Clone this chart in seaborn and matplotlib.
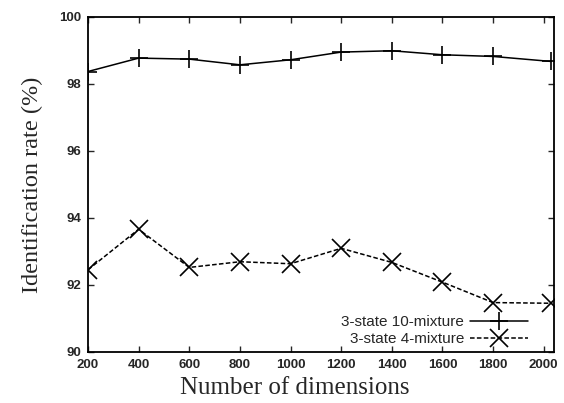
import matplotlib
matplotlib.use("Agg")
import matplotlib.pyplot as plt
import seaborn as sns
import pandas as pd

dims = [200, 400, 600, 800, 1000, 1200, 1400, 1600, 1800, 2030]
mix10 = [98.37, 98.77, 98.74, 98.57, 98.72, 98.95, 98.99, 98.87, 98.82, 98.67]
mix4 = [92.45, 93.66, 92.52, 92.69, 92.63, 93.09, 92.67, 92.08, 91.47, 91.45]
series_names = ["3-state 10-mixture", "3-state 4-mixture"]
xticks = [200, 400, 600, 800, 1000, 1200, 1400, 1600, 1800, 2000]
yticks = [90, 92, 94, 96, 98, 100]

df = pd.DataFrame({
    "dims": dims * 2,
    "rate": mix10 + mix4,
    "series": [series_names[0]] * len(dims) + [series_names[1]] * len(dims),
})

sns.set_style("ticks")
fig = plt.figure(figsize=(5.64, 4.03), dpi=100)
ax = fig.add_axes([0.156, 0.127, 0.826, 0.831])

sns.lineplot(data=df, x="dims", y="rate", hue="series", style="series",
             markers={series_names[0]: "+", series_names[1]: "x"},
             dashes={series_names[0]: "", series_names[1]: (3, 1.5)},
             palette={series_names[0]: "black", series_names[1]: "black"},
             markersize=12.5, linewidth=1.1, ax=ax, legend=False)

for ln in ax.lines:
    ln.set_markeredgecolor("black")
    ln.set_markerfacecolor("black")
    ln.set_markeredgewidth(1.2)

ax.set_xlim(200, 2040)
ax.set_ylim(90, 100)
ax.set_xticks(xticks)
ax.set_yticks(yticks)
for lab in ax.get_xticklabels() + ax.get_yticklabels():
    lab.set_fontfamily("Liberation Sans")
    lab.set_fontweight("bold")
    lab.set_fontsize(9.5)
ax.tick_params(direction="in", top=True, right=True, length=4, width=1, pad=5)
for s in ax.spines.values():
    s.set_linewidth(1.3)
    s.set_color("black")

ax.set_xlabel("Number of dimensions", fontfamily="Liberation Serif", fontsize=18)
ax.xaxis.set_label_coords(0.444, -0.075)
ax.set_ylabel("Identification rate (%)", fontfamily="Liberation Serif", fontsize=17.5)
ax.yaxis.set_label_coords(-0.097, 0.5)

handles = [ln for ln in ax.lines[:2]]
leg = ax.legend(handles, series_names, loc="lower right", frameon=False, markerfirst=False,
                prop={"family": "Liberation Sans", "size": 11},
                handlelength=3.8, handletextpad=0.4, labelspacing=0.2,
                bbox_to_anchor=(0.975, -0.025))

fig.savefig("out.png", dpi=100)
